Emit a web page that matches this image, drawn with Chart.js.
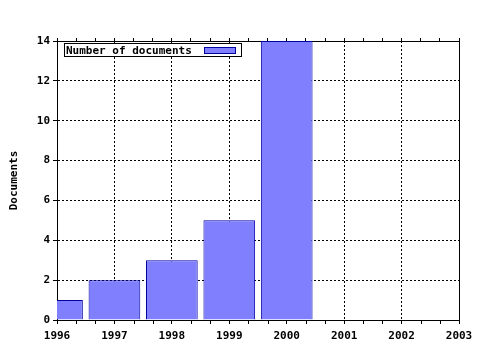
<!DOCTYPE html>
<html>
<head>
<meta charset="utf-8">
<script src="https://cdn.jsdelivr.net/npm/chart.js@4/dist/chart.umd.min.js"></script>
<style>
  html, body { margin: 0; padding: 0; background: #fff; }
  #chart { display: block; }
</style>
</head>
<body>
<canvas id="chart" width="480" height="350"></canvas>
<script>
const years = [1996, 1997, 1998, 1999, 2000];
const documents = [1, 2, 3, 5, 14];
const xTickYears = [1996, 1997, 1998, 1999, 2000, 2001, 2002, 2003];
const yTicks = [0, 2, 4, 6, 8, 10, 12, 14];
const seriesLabel = 'Number of documents';
const yTitle = 'Documents';

const FONT = 'DejaVu Sans Mono';
const font = { family: FONT, size: 11, weight: 'bold' };

// major ticks on years, two minor ticks between them (top axis)
function yearTicksMinor(scale) {
  const out = [];
  xTickYears.forEach((y, i) => {
    out.push({ value: y });
    if (i < xTickYears.length - 1) {
      out.push({ value: y + 1 / 3 });
      out.push({ value: y + 2 / 3 });
    }
  });
  scale.ticks = out;
}

// minor ticks on the bottom axis
const minorTicks = {
  id: 'minorTicks',
  afterDraw(chart) {
    const ctx = chart.ctx;
    const x = chart.scales.x;
    const bottom = chart.chartArea.bottom;
    ctx.save();
    ctx.strokeStyle = '#000';
    ctx.lineWidth = 1;
    ctx.beginPath();
    for (let i = 0; i < xTickYears.length - 1; i++) {
      [1 / 3, 2 / 3].forEach(f => {
        const px = Math.round(x.getPixelForValue(xTickYears[i] + f)) + 0.5;
        ctx.moveTo(px, bottom);
        ctx.lineTo(px, bottom + 4);
      });
    }
    ctx.stroke();
    ctx.restore();
  }
};

// legend box drawn inside the plot, top left
const insideLegend = {
  id: 'insideLegend',
  afterDatasetsDraw(chart) {
    const ctx = chart.ctx;
    const area = chart.chartArea;
    const ds = chart.data.datasets[0];
    const x = area.left + 7, y = area.top + 2;
    const w = 178, h = 14;
    ctx.save();
    ctx.fillStyle = '#fff';
    ctx.fillRect(x, y, w, h);
    ctx.strokeStyle = '#000';
    ctx.lineWidth = 1;
    ctx.strokeRect(x + 0.5, y + 0.5, w - 1, h - 1);
    ctx.fillStyle = '#000';
    ctx.font = 'bold 11px "' + FONT + '"';
    ctx.textBaseline = 'middle';
    ctx.fillText(ds.label, x + 2, y + h / 2 + 1);
    ctx.fillStyle = ds.backgroundColor;
    ctx.fillRect(x + 140, y + 4, 32, 6);
    ctx.strokeStyle = ds.borderColor;
    ctx.strokeRect(x + 140.5, y + 4.5, 31, 6);
    ctx.restore();
  }
};

new Chart(document.getElementById('chart'), {
  type: 'bar',
  data: {
    datasets: [{
      label: seriesLabel,
      data: years.map((y, i) => ({ x: y, y: documents[i] })),
      backgroundColor: '#8080ff',
      borderColor: '#0000a0',
      borderWidth: 1,
      barPercentage: 0.9,
      categoryPercentage: 1
    }]
  },
  options: {
    responsive: false,
    animation: false,
    layout: { padding: 0 },
    plugins: {
      legend: { display: false },
      tooltip: { enabled: false }
    },
    scales: {
      x: {
        type: 'linear',
        position: 'bottom',
        offset: false,
        min: xTickYears[0],
        max: xTickYears[xTickYears.length - 1],
        afterBuildTicks: s => { s.ticks = xTickYears.map(v => ({ value: v })); },
        afterFit: s => { s.height = 30; },
        ticks: {
          autoSkip: false,
          maxRotation: 0,
          padding: 6,
          color: '#000',
          font: font,
          callback: v => String(v)
        },
        grid: {
          offset: false,
          color: '#000',
          tickColor: '#000',
          tickLength: 4,
          lineWidth: 1
        },
        border: { color: '#000', width: 1, dash: [2, 2] }
      },
      xTop: {
        type: 'linear',
        position: 'top',
        offset: false,
        min: xTickYears[0],
        max: xTickYears[xTickYears.length - 1],
        afterBuildTicks: yearTicksMinor,
        afterFit: s => { s.height = 41; },
        ticks: { display: false },
        grid: { offset: false, drawOnChartArea: false, tickColor: '#000', tickLength: 3 },
        border: { color: '#000', width: 1 }
      },
      y: {
        type: 'linear',
        position: 'left',
        min: yTicks[0],
        max: yTicks[yTicks.length - 1],
        afterBuildTicks: s => { s.ticks = yTicks.map(v => ({ value: v })); },
        afterFit: s => { s.width = 57; },
        ticks: { color: '#000', font: font, padding: 3 },
        grid: { color: '#000', tickColor: '#000', tickLength: 4, lineWidth: 1 },
        border: { color: '#000', width: 1, dash: [2, 2] },
        title: {
          display: true,
          text: yTitle,
          color: '#000',
          font: font,
          padding: { top: 8, bottom: 0 }
        }
      },
      yRight: {
        type: 'linear',
        position: 'right',
        min: yTicks[0],
        max: yTicks[yTicks.length - 1],
        afterFit: s => { s.width = 21; },
        ticks: { display: false },
        grid: { display: false },
        border: { color: '#000', width: 1 }
      }
    }
  },
  plugins: [insideLegend, minorTicks]
});
</script>
</body>
</html>
